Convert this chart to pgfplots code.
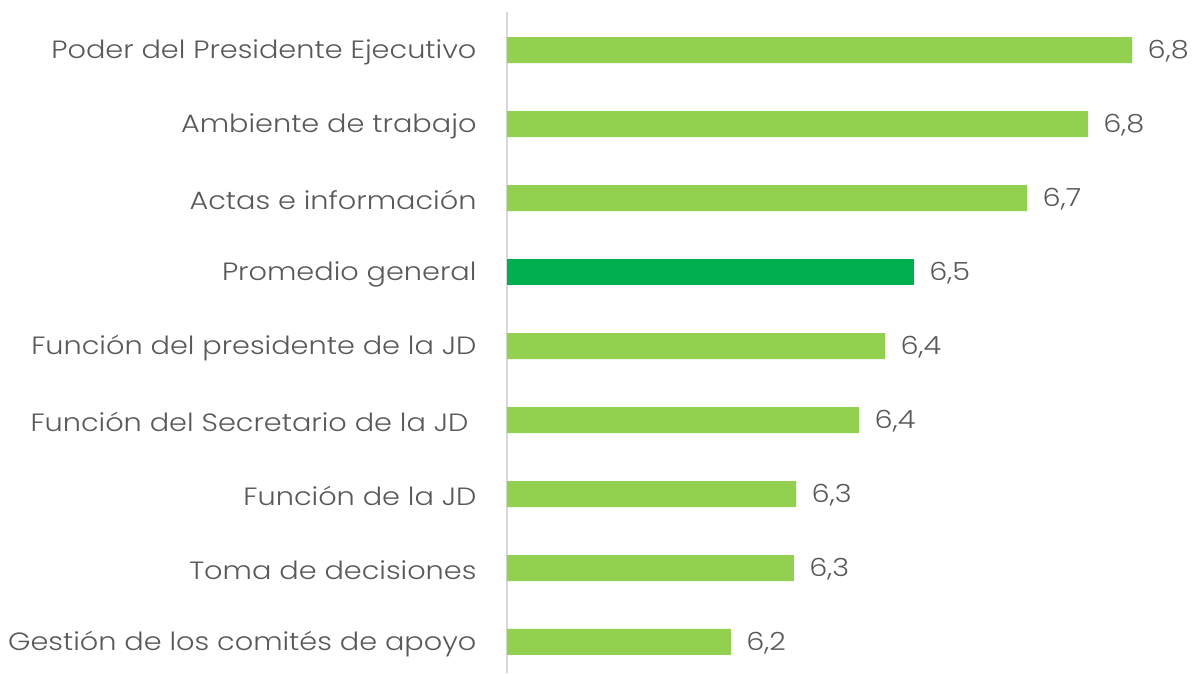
\documentclass[border=0pt]{standalone}
\usepackage{pgfplots}
\pgfplotsset{compat=1.18}
\usepackage{fontspec}
\setmainfont{Poppins}[UprightFont=* Light, FakeStretch=1.15]
\definecolor{lgreen}{HTML}{92D050}
\definecolor{dgreen}{HTML}{00B050}
\definecolor{tgray}{HTML}{595959}
\definecolor{lgray}{HTML}{D9D9D9}
\begin{document}
\begin{tikzpicture}
\begin{axis}[
  at={(507pt,0pt)}, anchor=south west,
  scale only axis, width=660pt, height=661pt,
  xmin=5.8, xmax=6.9, ymin=-0.419, ymax=8.514,
  axis x line=none, axis y line=left,
  y axis line style={-, draw=lgray, line width=1.8pt},
  xtick=\empty,
  ytick={0,1,2,3,4,5,6,7,8},
  yticklabels={Gestión de los comités de apoyo, Toma de decisiones, Función de la JD, Función del Secretario de la JD\kern8pt, Función del presidente de la JD, Promedio general, Actas e información, Ambiente de trabajo, Poder del Presidente Ejecutivo},
  major tick length=0pt,
  ytick style={draw=none},
  yticklabel style={font=\fontsize{25}{30}\selectfont, text=tgray, xshift=-27pt, yshift=-2pt},
  xbar, bar width=26pt, bar shift=0pt,
  nodes near coords,
  point meta=x,
  every node near coord/.append style={font=\fontsize{25}{30}\selectfont, text=tgray, anchor=west, xshift=12pt, yshift=-1.5pt,
    /pgf/number format/.cd, fixed, fixed zerofill, precision=1, use comma, assume math mode=true},
  clip=false,
]
\addplot[draw=none, fill=lgreen] coordinates {
(6.173,0) (6.278,1) (6.282,2) (6.387,3) (6.430,4) (6.667,6) (6.768,7) (6.842,8)};
\addplot[draw=none, fill=dgreen] coordinates {(6.478,5)};
\end{axis}
\pgfresetboundingbox
\path[use as bounding box] (0,0) rectangle (1192pt,673pt);
\end{tikzpicture}
\end{document}
